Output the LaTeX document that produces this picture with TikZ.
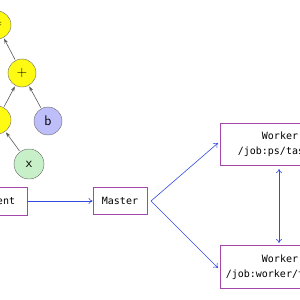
\documentclass[tikz,border=0pt]{standalone}
\usepackage{fontspec}
\setmonofont{DejaVu Sans Mono}
\usetikzlibrary{arrows.meta,positioning,calc}
\definecolor{opyellow}{RGB}{255,250,20}
\definecolor{varblue}{RGB}{190,190,250}
\definecolor{inpgreen}{RGB}{200,240,200}
\definecolor{boxpurple}{RGB}{165,70,170}
\definecolor{linkblue}{RGB}{50,75,225}

\begin{document}
\begin{tikzpicture}[x=1pt,y=-1pt,
  op/.style={draw=gray!80!black, circle, minimum size=28pt, inner sep=0pt, font=\sffamily\fontsize{14}{16}\selectfont},
  box/.style={draw=boxpurple, thick, rectangle, align=center, font=\ttfamily\fontsize{10}{14.5}\selectfont, inner sep=0pt},
  tree/.style={draw=gray!70!black, semithick, -{Stealth[length=5pt,width=3.5pt]}, shorten >=1pt, shorten <=1pt},
  link/.style={draw=linkblue, semithick, -{To[length=4pt,width=6pt]}},
]
\useasboundingbox (0,0) rectangle (300,300);
\clip (0,0) rectangle (300,300);
% graph
\node[op, fill=opyellow] (assign) at (-3,25) {=};
\node[op, fill=opyellow] (add) at (22,73) {+};
\node[op, fill=opyellow] (mul) at (-3,120) {};
\node[op, fill=varblue] (b) at (48,121) {b};
\node[op, fill=inpgreen, minimum size=30pt] (x) at (29,164) {x};
\draw[tree] (add) -- (assign);
\draw[tree] (mul) -- (add);
\draw[tree] (b) -- (add);
\draw[tree] (x) -- (mul);
% cluster
\node[box, minimum width=60pt, minimum height=28pt] (client) at (-3,201) {Client};
\node[box, minimum width=54pt, minimum height=27pt] (master) at (120,201) {Master};
\node[box, minimum width=120pt, minimum height=42pt] (ps) at (280,144) {Worker\\/job:ps/task:0};
\node[box, minimum width=120pt, minimum height=43pt] (worker) at (280,267) {Worker\\/job:worker/task:0};
\coordinate (fork) at (151,201);
\draw[link] (client) -- (master);
\draw[link] (fork) -- (218,143);
\draw[link] (fork) -- (218,268);
\draw[link, {To[length=4pt,width=6pt]}-{To[length=4pt,width=6pt]}] (279,169) -- (279,243);
\end{tikzpicture}
\end{document}
